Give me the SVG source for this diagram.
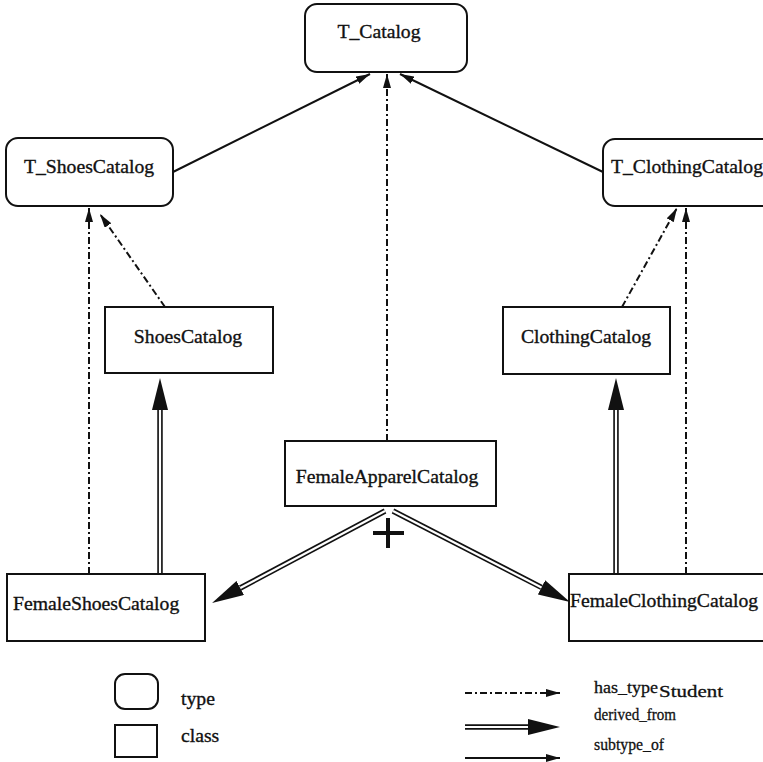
<svg xmlns="http://www.w3.org/2000/svg" width="763" height="762" viewBox="0 0 763 762">
<style>
  .box{fill:#fff;stroke:#111;stroke-width:2}
  .lbl{font-family:"Liberation Serif","Times New Roman",serif;font-size:19.7px;fill:#111;stroke:#111;stroke-width:0.35}
  .leg{font-family:"Liberation Serif","Times New Roman",serif;font-size:17px;fill:#111;stroke:#111;stroke-width:0.3}
  .solid{fill:none;stroke:#111;stroke-width:2;marker-end:url(#ah)}
  .dd{fill:none;stroke:#111;stroke-width:2;stroke-dasharray:7 3 2 3;marker-end:url(#ah)}
  .dbl{fill:none;stroke:#111;stroke-width:5.5;marker-end:url(#big)}
  .dblw{fill:none;stroke:#fff;stroke-width:2.2}
</style>
<defs>
  <marker id="ah" viewBox="0 -4 14 8" refX="14" refY="0" markerWidth="14" markerHeight="8" markerUnits="userSpaceOnUse" orient="auto">
    <path d="M0,-4 L14,0 L0,4 z" fill="#111"/>
  </marker>
  <marker id="big" viewBox="0 -8 32 16" refX="0" refY="0" markerWidth="32" markerHeight="16" markerUnits="userSpaceOnUse" orient="auto">
    <path d="M0,-8 L32,0 L0,8 z" fill="#111"/>
  </marker>
</defs>
<rect width="763" height="762" fill="#fff"/>

<g id="connectors">
  <path class="solid" d="M173,172 L370,74"/>
  <path class="solid" d="M603,172 L400,74"/>
  <path class="dd" d="M387,441 L387,74"/>
  <path class="dd" d="M89,574 L89,208"/>
  <path class="dd" d="M165,307 L100,214"/>
  <path class="dd" d="M622,307 L677,208"/>
  <path class="dd" d="M686,574 L686,208"/>
  <path class="dbl" d="M160,574 L160,410"/>
  <path class="dblw" d="M160,574 L160,410"/>
  <path class="dbl" d="M616,574 L616,410"/>
  <path class="dblw" d="M616,574 L616,410"/>
  <path class="dbl" d="M385,511 L240.3,588"/>
  <path class="dblw" d="M385,511 L240.3,588"/>
  <path class="dbl" d="M393,511 L541.5,587.4"/>
  <path class="dblw" d="M393,511 L541.5,587.4"/>
  <path d="M373,533 H404 M388,518 V548" stroke="#111" stroke-width="4" fill="none"/>
</g>

<g id="T_Catalog">
  <rect class="box" x="305" y="4" width="162" height="68" rx="12"/>
  <text class="lbl" x="379" y="38" text-anchor="middle">T_Catalog</text>
</g>
<g id="T_ShoesCatalog">
  <rect class="box" x="6" y="138" width="167" height="68" rx="12"/>
  <text class="lbl" x="89" y="173" text-anchor="middle">T_ShoesCatalog</text>
</g>
<g id="T_ClothingCatalog">
  <rect class="box" x="603" y="139" width="172" height="67" rx="12"/>
  <text class="lbl" x="611" y="173">T_ClothingCatalog</text>
</g>
<g id="ShoesCatalog">
  <rect class="box" x="105" y="307" width="168" height="66"/>
  <text class="lbl" x="188" y="343" text-anchor="middle">ShoesCatalog</text>
</g>
<g id="ClothingCatalog">
  <rect class="box" x="503" y="307" width="167" height="67"/>
  <text class="lbl" x="586" y="343" text-anchor="middle">ClothingCatalog</text>
</g>
<g id="FemaleApparelCatalog">
  <rect class="box" x="285" y="441" width="211" height="65"/>
  <text class="lbl" x="387" y="483" text-anchor="middle">FemaleApparelCatalog</text>
</g>
<g id="FemaleShoesCatalog">
  <rect class="box" x="7" y="574" width="198" height="67"/>
  <text class="lbl" x="13" y="610">FemaleShoesCatalog</text>
</g>
<g id="FemaleClothingCatalog">
  <rect class="box" x="569" y="574" width="200" height="67"/>
  <text class="lbl" x="570" y="607">FemaleClothingCatalog</text>
</g>

<g id="legend">
  <rect class="box" x="115" y="674" width="43" height="35" rx="10"/>
  <text class="lbl" x="181" y="705">type</text>
  <rect class="box" x="115" y="725" width="42" height="32"/>
  <text class="lbl" x="181" y="742">class</text>
  <path class="dd" d="M465,693 L560,693"/>
  <path class="dbl" d="M465,727 L528,727"/>
  <path class="dblw" d="M465,727 L528,727"/>
  <path class="solid" d="M465,758 L560,758"/>
  <text class="leg" x="594" y="693" textLength="64" lengthAdjust="spacingAndGlyphs">has_type</text>
  <text class="leg" x="659" y="697" textLength="64" lengthAdjust="spacingAndGlyphs">Student</text>
  <text class="leg" x="594" y="720" textLength="82" lengthAdjust="spacingAndGlyphs">derived_from</text>
  <text class="leg" x="594" y="750" textLength="70" lengthAdjust="spacingAndGlyphs">subtype_of</text>
</g>
</svg>
